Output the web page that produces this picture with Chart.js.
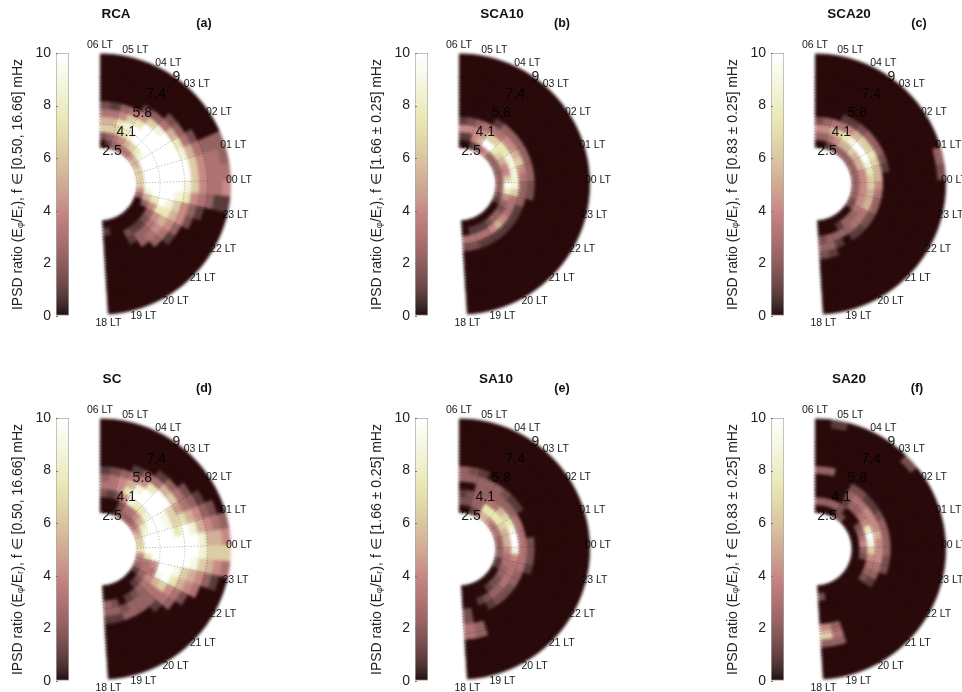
<!DOCTYPE html>
<html><head><meta charset="utf-8">
<style>html,body{margin:0;padding:0;background:#fff;width:962px;height:692px;overflow:hidden;position:relative}canvas{position:absolute;display:block}</style>
<script src="https://cdn.jsdelivr.net/npm/chart.js"></script>
</head><body>
<script>
// Each row is one 22-minute local-time sector (06 LT clockwise to 18 LT), values inner to outer shell.
const RCA = [
[0,1.4,6.3,5.2,3,1.4],[.8,2.2,6.3,5.2,3,.8],[2.2,3,6.3,7.5,4,2.2],[2.2,4,7.5,8.7,6.3,3],[3,5.2,8.7,10,7.5,4,1.4],[3,6.3,10,10,10,6.3,2.2],
[4,7.5,10,10,10,8.7,3,1.4],[5.2,8.7,10,10,10,10,5.2,2.2],[5.2,10,10,10,10,10,7.5,3,1.4],[6.3,10,10,10,10,10,8.7,5.2,3,2.2,2.2,2.2],[6.3,10,10,10,10,10,10,6.3,4,3,3,2.2],[6.3,10,10,10,10,10,10,6.3,4,3,3,3],
[6.3,10,10,10,10,10,8.7,6.3,4,3,3,4],[4,8.7,10,10,10,8.7,7.5,4,3,2.2,.8,.8],[2.2,5.2,7.5,10,8.7,6.3,4,2.2,.8],[0,2.2,4,7.5,7.5,5.2,4,1.4],[0,0,2.2,4,5.2,4,2.2],[0,0,1.4,3,4,3,.8],
[0,0,.8,2.2,3,2.2],[0,0,.8,2.2,2.2],[0,0,1.4,.8],[],[],[0,.8]];
const SCA10 = [
[0,.8,4,.8],[0,.8,4,1.4],[.8,4,4,2.2],[1.4,5.2,4,3],[3,10,6.3,3,.8],[4,10,6.3,3,2.2],
[2.2,7.5,7.5,4,2.2],[2.2,6.3,7.5,4,2.2],[2.2,5.2,8.7,5.2,2.2],[2.2,4,8.7,6.3,2.2],[2.2,4,8.7,4,2.2],[2.2,6.3,8.7,3,2.2],
[2.2,10,8.7,2.2,1.4],[2.2,7.5,6.3,2.2,1.4],[1.4,4,3,2.2],[.8,2.2,3,.8],[0,1.4,3,.8],[0,2.2,4,.8],
[0,2.2,5.2,.8],[0,1.4,4,.8],[0,.8,3,.8],[0,.8,3,.8],[0,.8,3,1.4],[0,0,3,1.4]];
const SCA20 = [
[0,2.2,4,1.4],[0,2.2,4,2.2],[.8,3,5.2,3],[1.4,4,6.3,3,.8],[2.2,5.2,7.5,4,.8],[2.2,5.2,8.7,5.2,1.4],
[2.2,6.3,10,6.3,2.2],[2.2,5.2,10,6.3,2.2],[2.2,5.2,10,7.5,2.2],[2.2,5.2,8.7,6.3,1.4],[2.2,4,7.5,5.2,.8,0,0,0,0,0,0,2.2],[2.2,4,6.3,5.2,0,0,0,0,0,0,0,1.4],
[2.2,4,6.3,4],[2.2,4,5.2,3],[2.2,4,5.2,2.2],[1.4,4,5.2,2.2],[1.4,3,3,1.4],[0,2.2,3,1.4],
[0,2.2,3,.8],[0,2.2,2.2,.8],[0,.8,2.2],[0,0,2.2,.8],[0,0,2.2,2.2,.8],[0,0,1.4,2.2,1.4]];
const SC = [
[0,0,1.4,3,2.2,.8],[0,0,.8,3,3,1.4],[0,0,1.4,4,4,2.2],[1.4,1.4,4,7.5,5.2,3,.8],[2.2,3,8.7,10,8.7,4,2.2],[2.2,3,7.5,10,10,7.5,3,.8],
[2.2,4,7.5,10,10,10,5.2,2.2],[3,5.2,8.7,10,10,10,6.3,3,1.4],[4,7.5,10,10,9.2,6.5,4.5,3,2.2,.8],[5.2,8.7,10,10,9.2,6.5,7,5.2,4,2.2,1.4],[6.3,10,10,10,10,7.5,10,8.5,5.2,4,3,2.2],[6.3,10,10,10,10,10,10,10,8.5,5.2,5.2,4],
[7.5,10,10,10,10,10,10,10,8.5,6.3,6.3,6.3],[4,7.5,10,10,10,10,10,9.2,6.3,5.2,4,3],[3,3,4,10,10,9.2,6.3,5.2,4,2.2,.8],[2.2,3,3,9.2,10,7.5,5.2,4,3],[.8,2.2,4,5.2,6.3,4,3,1.4],[0,1.4,3,3,3,3,2.2],
[0,.8,2.2,2.2,2.2,.8],[0,0,1.4,2.2,2.2],[0,0,.8,2.2,2.2],[0,0,0,1.4,2.2],[0,0,1.4,2.2,.8],[0,0,2.2,2.2,.8]];
const SA10 = [
[0,1.4,.8,0,2.2,2.2],[0,1.4,1.4,0,2.2,1.4],[.8,2.2,2.2,2.2,2.2,.8],[1.4,2.2,2.2,2.2,2.2],[5.2,7.5,3,2.2,2.2],[5.2,7.5,3,2.2,1.4],
[4,7.5,5.2,2.2,.8],[3,7.5,6.3,2.2,.8],[3,6.3,7.5,3],[3,5.2,8.7,3],[2.2,5.2,10,3],[2.2,5.2,10,3,1.4],
[2.2,4,8.7,3,1.4],[2.2,3,4,3,1.4],[.8,3,3,3,.8],[.8,2.2,3,2.2],[0,2.2,3,2.2],[0,1.4,3,1.4],
[0,1.4,2.2,1.4],[0,.8,2.2,1.4],[0,0,1.4,.8],[0,0,.8],[0,0,0,0,0,2.2,2.2],[0,0,0,1.4,1.4,3,3]];
const SA20 = [
[0,2.2,0,0,0,2.2],[0,2.2,0,0,0,2.2,0,0,0,0,0,.8],[0,2.2],[0,2.2],[1.4,1.4,.8,2.2,1.4],[1.4,0,2.2,3,1.4],
[0,0,2.2,3,.8,0,0,0,0,0,0,1.4],[0,0,3,4,.8],[0,1.4,4,4,1.4],[0,2.2,7.5,4,2.2],[0,3,10,5.2,2.2],[0,4,8.7,4,2.2],
[0,2.2,6.3,4,2.2],[0,1.4,4,4,1.4],[0,0,3,3,1.4],[0,0,2.2,2.2],[0,0,1.4,.8],[],
[],[],[],[],[0,0,0,0,0,2.2,3,2.2],[0,1.4,0,0,0,4,6.3,2.2]];

const ringCount = 12;
const ltLabels = ['06 LT','05 LT','04 LT','03 LT','02 LT','01 LT','00 LT','23 LT','22 LT','21 LT','20 LT','19 LT','18 LT'];
const shellValues = [2.5,4.1,5.8,7.4,9];
const shellLabels = ['2.5','4.1','5.8','7.4','9'];
const shellAngles = [19,26,30,31.5,35];
const shellNudge = [0,0,0,0,2];
const cbarTicks = [0,2,4,6,8,10];
const bands = {broad:'[0.50, 16.66]', b10:'[1.66 \u00b1 0.25]', b20:'[0.83 \u00b1 0.25]'};

const panels = [
 {name:'RCA',  tag:'(a)', grid:RCA,  band:bands.broad, cx:100, cy:184, nameDx:16, tagDx:104},
 {name:'SCA10',tag:'(b)', grid:SCA10,band:bands.b10,   cx:459, cy:184, nameDx:43, tagDx:103},
 {name:'SCA20',tag:'(c)', grid:SCA20,band:bands.b20,   cx:815, cy:184, nameDx:34, tagDx:104},
 {name:'SC',   tag:'(d)', grid:SC,   band:bands.broad, cx:100, cy:549, nameDx:12, tagDx:104},
 {name:'SA10', tag:'(e)', grid:SA10, band:bands.b10,   cx:459, cy:549, nameDx:37, tagDx:103},
 {name:'SA20', tag:'(f)', grid:SA20, band:bands.b20,   cx:815, cy:549, nameDx:34, tagDx:102}
];

function pink(v){
  const t=Math.min(1,Math.max(0,v/10));
  const cl=x=>Math.min(1,Math.max(0,x));
  const hr=cl(t/.375),hg=cl((t-.375)/.375),hb=cl((t-.75)/.25);
  const f=h=>Math.sqrt((2*t+h)/3);
  const r=Math.max(f(hr),.155),g=Math.max(f(hg),.03),b=Math.max(f(hb),.035);
  return `rgb(${Math.round(r*255)},${Math.round(g*255)},${Math.round(b*255)})`;
}
const FONT='"Liberation Sans", Arial, sans-serif';
const SPAN=176.5;

function addCanvas(l,t,w,h,css){
  const c=document.createElement('canvas');
  c.width=w;c.height=h;c.style.left=l+'px';c.style.top=t+'px';c.style.width=w+'px';c.style.height=h+'px';
  if(css)Object.assign(c.style,css);
  document.body.appendChild(c);return c;
}

const overlay={
  id:'overlay',
  afterDatasetsDraw(chart,_a,opts){
    const p=opts.panel,ctx=chart.ctx;
    const m0=chart.getDatasetMeta(0).data[0], mL=chart.getDatasetMeta(chart.data.datasets.length-1).data[0];
    const X=m0.x,Y=m0.y,R=m0.outerRadius,r0=mL.innerRadius;
    const rad=L=>r0+(L-2.5)/(9-2.5)*(R-r0);
    const toA=d=>(d-90)*Math.PI/180;
    ctx.save();
    ctx.strokeStyle='#a8a8a8';ctx.lineWidth=.8;ctx.setLineDash([1.2,1.8]);
    shellValues.slice(0,4).forEach(L=>{ctx.beginPath();ctx.arc(X,Y,rad(L),toA(0),toA(SPAN));ctx.stroke();});
    ltLabels.forEach((_,k)=>{const a=toA(k*SPAN/12);ctx.beginPath();ctx.moveTo(X+r0*Math.cos(a),Y+r0*Math.sin(a));ctx.lineTo(X+rad(7.4)*Math.cos(a),Y+rad(7.4)*Math.sin(a));ctx.stroke();});
    ctx.restore();
    ctx.save();
    ctx.textAlign='center';ctx.textBaseline='middle';ctx.fillStyle='#1a1a1a';
    ctx.font='10.5px '+FONT;
    ltLabels.forEach((t,k)=>{const a=toA(k*SPAN/12);ctx.fillText(t,X+(R+8)*Math.cos(a),Y+(R+8)*Math.sin(a));});
    ctx.font='14px '+FONT;
    shellLabels.forEach((t,i)=>{const a=toA(shellAngles[i]);const rr=rad(shellValues[i])+shellNudge[i];ctx.fillText(t,X+rr*Math.cos(a),Y+rr*Math.sin(a)+2);});
    ctx.font='bold 13.5px '+FONT;ctx.fillStyle='#111';
    ctx.fillText(p.name,X+p.nameDx,Y-170);
    ctx.font='bold 12.5px '+FONT;
    ctx.fillText(p.tag,X+p.tagDx,Y-161);
    ctx.restore();
  }
};

const cbarTicksPlugin={
  id:'cbarTicksPlugin',
  afterDatasetsDraw(chart){
    const y=chart.scales.y,x=chart.chartArea,ctx=chart.ctx;
    ctx.save();ctx.strokeStyle='#777';ctx.lineWidth=1;
    cbarTicks.forEach(v=>{const py=Math.round(y.getPixelForValue(v))+.5;ctx.beginPath();ctx.moveTo(x.left,py);ctx.lineTo(x.left+2,py);ctx.stroke();});
    ctx.restore();
  }
};

panels.forEach(p=>{
  const W=175,H=337,T=p.cy-182;
  const baseOpts=()=>({responsive:false,animation:false,devicePixelRatio:1,events:[],
      rotation:0,circumference:SPAN,cutout:'28.2%',
      layout:{padding:{left:20,right:W-20-131,top:51,bottom:H-51-262}}});
  // heatmap: nested half doughnut, ring 0 of the library is the outermost
  const datasets=[];
  for(let i=ringCount-1;i>=0;i--){
    const colors=p.grid.map(row=>pink(row[i]??0));
    datasets.push({data:p.grid.map(()=>1),backgroundColor:colors,borderColor:colors,borderWidth:.9});
  }
  new Chart(addCanvas(p.cx-20,T,W,H,{filter:'blur(1.5px)'}),{
    type:'doughnut',
    data:{labels:p.grid.map((_,i)=>String(i)),datasets},
    options:Object.assign(baseOpts(),{plugins:{legend:{display:false},tooltip:{enabled:false}}})
  });
  // labels and dotted grid on a transparent copy of the same doughnut geometry
  new Chart(addCanvas(p.cx-20,T,W,H,{mixBlendMode:'multiply'}),{
    type:'doughnut',
    data:{labels:['sector'],datasets:[{data:[1],backgroundColor:'rgba(0,0,0,0)',borderWidth:0}]},
    options:Object.assign(baseOpts(),{plugins:{legend:{display:false},tooltip:{enabled:false},overlay:{panel:p}}}),
    plugins:[overlay]
  });
  // colour bar
  const cbLeft=p.cx-100;
  new Chart(addCanvas(cbLeft,p.cy-145,71,292),{
    type:'bar',
    data:{labels:[''],datasets:[{data:[[0,10]],barPercentage:1,categoryPercentage:1,borderColor:'#a8a8a8',borderWidth:1,borderSkipped:false,
      backgroundColor(ctx){
        const ch=ctx.chart,y=ch.scales.y;
        const y0=y?y.getPixelForValue(0):NaN,y1=y?y.getPixelForValue(10):NaN;
        if(!isFinite(y0)||!isFinite(y1))return '#888';
        const g=ch.ctx.createLinearGradient(0,y0,0,y1);
        for(let i=0;i<=40;i++)g.addColorStop(i/40,pink(i/4));
        return g;
      }}]},
    options:{responsive:false,animation:false,devicePixelRatio:1,events:[],
      layout:{padding:{left:0,right:2,top:14,bottom:15}},
      plugins:{legend:{display:false},tooltip:{enabled:false}},
      scales:{
        x:{display:false},
        y:{min:0,max:10,afterFit(s){s.width=56;},
          ticks:{stepSize:2,font:{size:14,family:FONT},color:'#222',padding:5,callback:v=>cbarTicks.includes(v)?String(v):''},
          grid:{drawOnChartArea:false,drawTicks:false},border:{display:false},
          title:{display:true,text:'IPSD ratio (E\u1D69/E\u1D63), f \u2208 '+p.band+' mHz',font:{size:14,family:FONT},color:'#222',padding:{top:10,bottom:0}}
        }
      }},
    plugins:[cbarTicksPlugin]
  });
});
</script>
</body></html>
